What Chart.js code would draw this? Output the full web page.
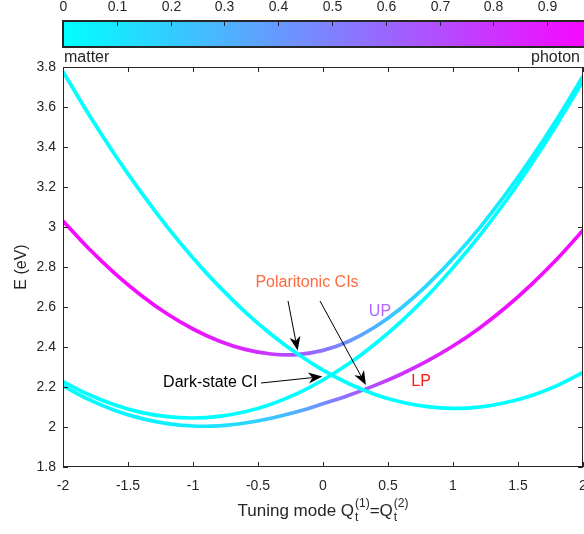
<!DOCTYPE html>
<html>
<head>
<meta charset="utf-8">
<script src="https://cdn.jsdelivr.net/npm/chart.js@4.4.1/dist/chart.umd.min.js"></script>
<style>
  html, body { margin: 0; padding: 0; background: #fff; overflow: hidden; }
  #wrap { width: 584px; height: 534px; overflow: hidden; }
</style>
</head>
<body>
<div id="wrap"><canvas id="chart" width="620" height="534"></canvas></div>
<script>
// tuning mode coordinate and the energies (eV)
const tuning      = [-2, -1.8, -1.6, -1.4, -1.2, -1, -0.8, -0.6, -0.4, -0.2, 0, 0.2, 0.4, 0.6, 0.8, 1, 1.2, 1.4, 1.6, 1.8, 2];
const matterState = [3.777, 3.561, 3.360, 3.174, 3.002, 2.845, 2.703, 2.576, 2.464, 2.367, 2.284, 2.216, 2.163, 2.125, 2.102, 2.093, 2.099, 2.121, 2.156, 2.207, 2.273];
const darkState   = [2.227, 2.161, 2.110, 2.073, 2.052, 2.045, 2.053, 2.076, 2.114, 2.167, 2.235, 2.317, 2.415, 2.527, 2.654, 2.797, 2.953, 3.125, 3.312, 3.514, 3.730];
const upperPol    = [3.030, 2.891, 2.767, 2.659, 2.566, 2.490, 2.430, 2.388, 2.365, 2.362, 2.383, 2.429, 2.500, 2.594, 2.709, 2.842, 2.992, 3.159, 3.342, 3.540, 3.754];
const lowerPol    = [2.205, 2.137, 2.083, 2.043, 2.017, 2.005, 2.006, 2.020, 2.044, 2.076, 2.116, 2.159, 2.208, 2.264, 2.329, 2.405, 2.493, 2.595, 2.711, 2.840, 2.984];
// photon fraction along each curve (colour)
const upPhoton    = [0.973, 0.968, 0.961, 0.951, 0.937, 0.918, 0.889, 0.846, 0.780, 0.683, 0.555, 0.415, 0.293, 0.203, 0.143, 0.103, 0.077, 0.059, 0.047, 0.038, 0.031];
const lpPhoton    = [0.027, 0.032, 0.039, 0.049, 0.063, 0.082, 0.111, 0.154, 0.220, 0.317, 0.445, 0.585, 0.707, 0.797, 0.857, 0.897, 0.923, 0.941, 0.953, 0.962, 0.969];
const zeroPhoton  = [0, 0, 0, 0, 0, 0, 0, 0, 0, 0, 0, 0, 0, 0, 0, 0, 0, 0, 0, 0, 0];

const xTicks   = [-2, -1.5, -1, -0.5, 0, 0.5, 1, 1.5, 2];
const yTicks   = [1.8, 2, 2.2, 2.4, 2.6, 2.8, 3, 3.2, 3.4, 3.6, 3.8];
const barTicks = [0, 0.1, 0.2, 0.3, 0.4, 0.5, 0.6, 0.7, 0.8, 0.9, 1];

const FONT = '"Liberation Sans", Arial, Helvetica, sans-serif';
const INK = '#262626';

function cool(t) {
  return 'rgb(' + Math.round(255 * t) + ',' + Math.round(255 * (1 - t)) + ',255)';
}

function lineGradient(fractions) {
  return function (context) {
    const chart = context.chart;
    const area = chart.chartArea;
    if (!area || !chart.scales.x) return cool(fractions[0]);
    const grad = chart.ctx.createLinearGradient(area.left, 0, area.right, 0);
    tuning.forEach((q, i) => {
      const p = (chart.scales.x.getPixelForValue(q) - area.left) / (area.right - area.left);
      grad.addColorStop(Math.min(1, Math.max(0, p)), cool(fractions[i]));
    });
    return grad;
  };
}

function points(values) {
  return tuning.map((q, i) => ({ x: q, y: values[i] }));
}

function curve(values, fractions) {
  return {
    data: points(values),
    borderColor: lineGradient(fractions),
    borderWidth: 3.7,
    pointRadius: 0,
    tension: 0.4,
    fill: false
  };
}

function arrow(ctx, x0, y0, x1, y1) {
  const ang = Math.atan2(y1 - y0, x1 - x0);
  const len = 14, half = 5.5, notch = 10;
  const ca = Math.cos(ang), sa = Math.sin(ang);
  ctx.beginPath();
  ctx.moveTo(x0, y0);
  ctx.lineTo(x1 - ca * notch, y1 - sa * notch);
  ctx.stroke();
  ctx.beginPath();
  ctx.moveTo(x1, y1);
  ctx.lineTo(x1 - ca * len - sa * half, y1 - sa * len + ca * half);
  ctx.lineTo(x1 - ca * notch, y1 - sa * notch);
  ctx.lineTo(x1 - ca * len + sa * half, y1 - sa * len - ca * half);
  ctx.closePath();
  ctx.fill();
}

const decorations = {
  id: 'decorations',
  afterDatasetsDraw(chart) {
    const { ctx, chartArea: a, scales: { x, y } } = chart;
    ctx.save();

    // axes box with inward ticks
    ctx.strokeStyle = INK;
    ctx.lineWidth = 1;
    ctx.strokeRect(a.left + 0.5, a.top + 0.5, a.right - a.left - 1, a.bottom - a.top - 1);
    ctx.beginPath();
    xTicks.forEach(v => {
      const px = Math.round(x.getPixelForValue(v)) + 0.5;
      ctx.moveTo(px, a.bottom); ctx.lineTo(px, a.bottom - 5);
      ctx.moveTo(px, a.top); ctx.lineTo(px, a.top + 5);
    });
    yTicks.forEach(v => {
      const py = Math.round(y.getPixelForValue(v)) + 0.5;
      ctx.moveTo(a.left, py); ctx.lineTo(a.left + 5, py);
      ctx.moveTo(a.right, py); ctx.lineTo(a.right - 5, py);
    });
    ctx.stroke();

    // colour bar
    const bx0 = 63, bx1 = 601, by0 = 21, by1 = 47;
    const grad = ctx.createLinearGradient(bx0, 0, bx1, 0);
    barTicks.forEach(t => grad.addColorStop(t, cool(t)));
    ctx.fillStyle = grad;
    ctx.fillRect(bx0, by0, bx1 - bx0, by1 - by0);
    ctx.lineWidth = 2;
    ctx.strokeRect(bx0, by0, bx1 - bx0, by1 - by0);
    ctx.lineWidth = 1;
    ctx.beginPath();
    ctx.fillStyle = INK;
    ctx.font = '14px ' + FONT;
    ctx.textAlign = 'center';
    ctx.textBaseline = 'middle';
    barTicks.forEach(t => {
      const px = Math.round(bx0 + t * (bx1 - bx0)) + 0.5;
      ctx.moveTo(px, by0); ctx.lineTo(px, by0 + 5);
      ctx.fillText(String(t), px, 7);
    });
    ctx.stroke();
    ctx.font = '16px ' + FONT;
    ctx.textBaseline = 'alphabetic';
    ctx.textAlign = 'left';
    ctx.fillText('matter', 64, 61.5);
    ctx.textAlign = 'right';
    ctx.fillText('photon', 580, 61.5);

    // y title
    ctx.save();
    ctx.translate(22, (a.top + a.bottom) / 2);
    ctx.rotate(-Math.PI / 2);
    ctx.textAlign = 'center';
    ctx.textBaseline = 'middle';
    ctx.fillText('E (eV)', 0, 0);
    ctx.restore();

    // x title: Tuning mode Q_t^(1)=Q_t^(2)
    const big = '17px ' + FONT, small = '12px ' + FONT;
    const parts = [['Tuning mode Q', big], ['(1)', small, 't'], ['=Q', big], ['(2)', small, 't']];
    let total = 0;
    parts.forEach(p => { ctx.font = p[1]; total += ctx.measureText(p[0]).width + (p[2] ? 1 : 0); });
    let cx = (a.left + a.right) / 2 - total / 2;
    const base = 516;
    ctx.textAlign = 'left';
    parts.forEach(p => {
      ctx.font = p[1];
      if (p[2]) {
        ctx.fillText(p[0], cx + 1, base - 9);
        ctx.fillText(p[2], cx + 1, base + 5);
        cx += 1;
      } else {
        ctx.fillText(p[0], cx, base);
      }
      cx += ctx.measureText(p[0]).width;
    });

    // annotations
    ctx.font = '16px ' + FONT;
    ctx.textBaseline = 'middle';
    ctx.textAlign = 'center';
    ctx.fillStyle = '#ff6a3d';
    ctx.fillText('Polaritonic CIs', x.getPixelForValue(-0.123), y.getPixelForValue(2.72));
    ctx.fillStyle = '#b266ff';
    ctx.fillText('UP', x.getPixelForValue(0.438), y.getPixelForValue(2.575));
    ctx.fillStyle = '#ff1a1a';
    ctx.fillText('LP', x.getPixelForValue(0.754), y.getPixelForValue(2.225));
    ctx.fillStyle = '#000';
    ctx.textAlign = 'right';
    ctx.fillText('Dark-state CI', x.getPixelForValue(-0.505), y.getPixelForValue(2.22));

    ctx.strokeStyle = '#000';
    ctx.fillStyle = '#000';
    ctx.lineWidth = 1;
    arrow(ctx, x.getPixelForValue(-0.269), y.getPixelForValue(2.63), x.getPixelForValue(-0.195), y.getPixelForValue(2.382));
    arrow(ctx, x.getPixelForValue(-0.023), y.getPixelForValue(2.63), x.getPixelForValue(0.33), y.getPixelForValue(2.21));
    arrow(ctx, x.getPixelForValue(-0.477), y.getPixelForValue(2.22), x.getPixelForValue(-0.005), y.getPixelForValue(2.252));

    ctx.restore();
  }
};

new Chart(document.getElementById('chart'), {
  type: 'line',
  data: {
    datasets: [
      curve(matterState, zeroPhoton),
      curve(upperPol, upPhoton),
      curve(darkState, zeroPhoton),
      curve(lowerPol, lpPhoton)
    ]
  },
  options: {
    responsive: false,
    animation: false,
    devicePixelRatio: 1,
    layout: { padding: { left: 0, right: 37, top: 67, bottom: 0 } },
    plugins: { legend: { display: false }, tooltip: { enabled: false } },
    scales: {
      x: {
        type: 'linear', min: -2, max: 2,
        afterFit: s => { s.height = 67; },
        afterBuildTicks: s => { s.ticks = xTicks.map(v => ({ value: v })); },
        grid: { display: false, drawTicks: false },
        border: { display: false },
        ticks: { padding: 11, color: INK, font: { family: FONT, size: 14 }, callback: v => String(+v.toFixed(2)) }
      },
      y: {
        type: 'linear', min: 1.8, max: 3.8,
        afterFit: s => { s.width = 63; },
        afterBuildTicks: s => { s.ticks = yTicks.map(v => ({ value: v })); },
        grid: { display: false, drawTicks: false },
        border: { display: false },
        ticks: { padding: 7, color: INK, font: { family: FONT, size: 14 }, callback: v => String(+v.toFixed(2)) }
      }
    }
  },
  plugins: [decorations]
});
</script>
</body>
</html>
